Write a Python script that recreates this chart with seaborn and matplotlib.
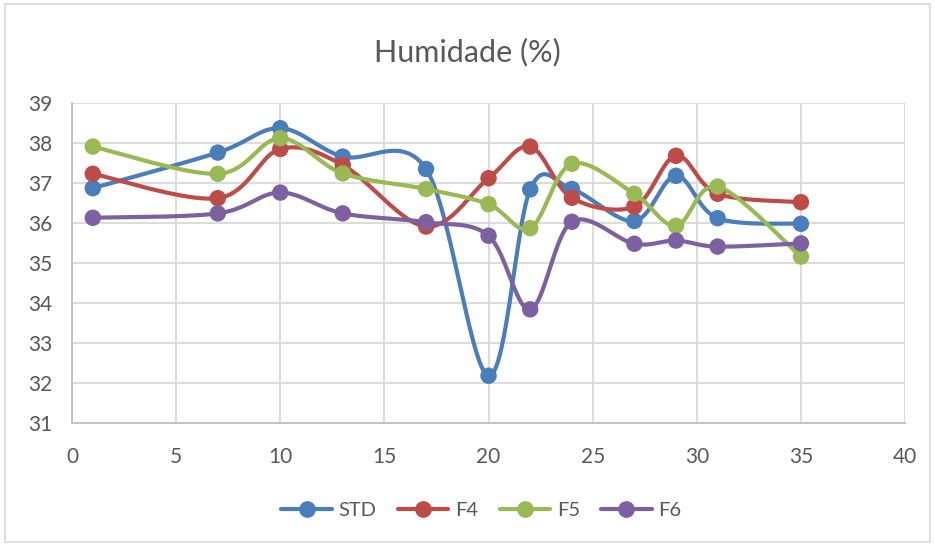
"""Humidade (%) chart, Excel-style smoothed lines."""
import numpy as np
import pandas as pd
import matplotlib
matplotlib.use("Agg")
import matplotlib.pyplot as plt
from matplotlib.lines import Line2D
from matplotlib.patches import Rectangle
import seaborn as sns

# Data
dias = [1, 7, 10, 13, 17, 20, 22, 24, 27, 29, 31, 35]
std = [36.87, 37.76, 38.37, 37.66, 37.35, 32.18, 36.84, 36.85, 36.05, 37.18, 36.12, 35.98]
f4 = [37.23, 36.62, 37.85, 37.45, 35.91, 37.12, 37.91, 36.63, 36.41, 37.68, 36.73, 36.52]
f5 = [37.91, 37.23, 38.12, 37.24, 36.85, 36.47, 35.87, 37.48, 36.73, 35.93, 36.91, 35.16]
f6 = [36.13, 36.24, 36.76, 36.24, 36.02, 35.68, 33.84, 36.03, 35.48, 35.56, 35.41, 35.49]

series_names = ["STD", "F4", "F5", "F6"]
colors = ["#4A7EBB", "#BE4B48", "#98B954", "#7D60A0"]

df = pd.DataFrame({"Dia": dias, "STD": std, "F4": f4, "F5": f5, "F6": f6})
long_df = df.melt(id_vars="Dia", var_name="Serie", value_name="Humidade")


def smooth_curve(x, y, n=40):
    """Catmull-Rom style bezier through the points (like Excel smoothing)."""
    x = np.asarray(x, float)
    y = np.asarray(y, float)
    pts = np.column_stack([x, y])
    out = []
    t = np.linspace(0, 1, n)[:, None]
    for i in range(len(pts) - 1):
        p0 = pts[i - 1] if i > 0 else pts[i]
        p1 = pts[i]
        p2 = pts[i + 1]
        p3 = pts[i + 2] if i + 2 < len(pts) else pts[i + 1]
        c1 = p1 + (p2 - p0) / 6.0
        c2 = p2 - (p3 - p1) / 6.0
        seg = ((1 - t) ** 3) * p1 + 3 * ((1 - t) ** 2) * t * c1 \
            + 3 * (1 - t) * t ** 2 * c2 + t ** 3 * p2
        out.append(seg if i == 0 else seg[1:])
    out = np.vstack(out)
    return out[:, 0], out[:, 1]


sns.set_style("white")
plt.rcParams["font.family"] = ["Lato", "DejaVu Sans"]

fig = plt.figure(figsize=(9.35, 5.45), dpi=100)
ax = fig.add_axes([0.077, 0.224, 0.891, 0.587])

# smoothed lines
for name, col in zip(series_names, colors):
    xs, ys = smooth_curve(df["Dia"], df[name])
    ax.plot(xs, ys, color=col, linewidth=3, zorder=3)

# markers
sns.scatterplot(data=long_df, x="Dia", y="Humidade", hue="Serie",
                hue_order=series_names, palette=colors, s=140,
                edgecolor="none", legend=False, ax=ax, zorder=4)

ax.set_xlim(0, 40)
ax.set_ylim(31, 39)
ax.set_xticks(range(0, 41, 5))
ax.set_yticks(range(31, 40))
ax.grid(True, color="#D9D9D9", linewidth=1.3)
ax.set_axisbelow(True)
for side in ["top", "right"]:
    ax.spines[side].set_visible(False)
for side in ["left", "bottom"]:
    ax.spines[side].set_color("#BFBFBF")
    ax.spines[side].set_linewidth(1.3)
ax.tick_params(axis="both", colors="#595959", labelsize=15, length=0)
ax.tick_params(axis="y", pad=14)
ax.tick_params(axis="x", pad=17)
ax.set_xlabel("")
ax.set_ylabel("")

fig.text(0.5, 0.905, "Humidade (%)", ha="center", va="center",
         fontsize=22, color="#595959")

handles = [Line2D([0], [0], color=c, linewidth=3, marker="o", markersize=11)
           for c in colors]
fig.legend(handles, series_names, loc="center", bbox_to_anchor=(0.515, 0.064),
           ncol=4, frameon=False, fontsize=14.5, handlelength=2.5,
           columnspacing=1.05, handletextpad=0.35, labelcolor="#595959")

# chart area border
fig.patches.append(Rectangle((0.005, 0.005), 0.99, 0.988, transform=fig.transFigure,
                             fill=False, edgecolor="#D9D9D9", linewidth=1.2))

fig.savefig("out.png", dpi=100)
